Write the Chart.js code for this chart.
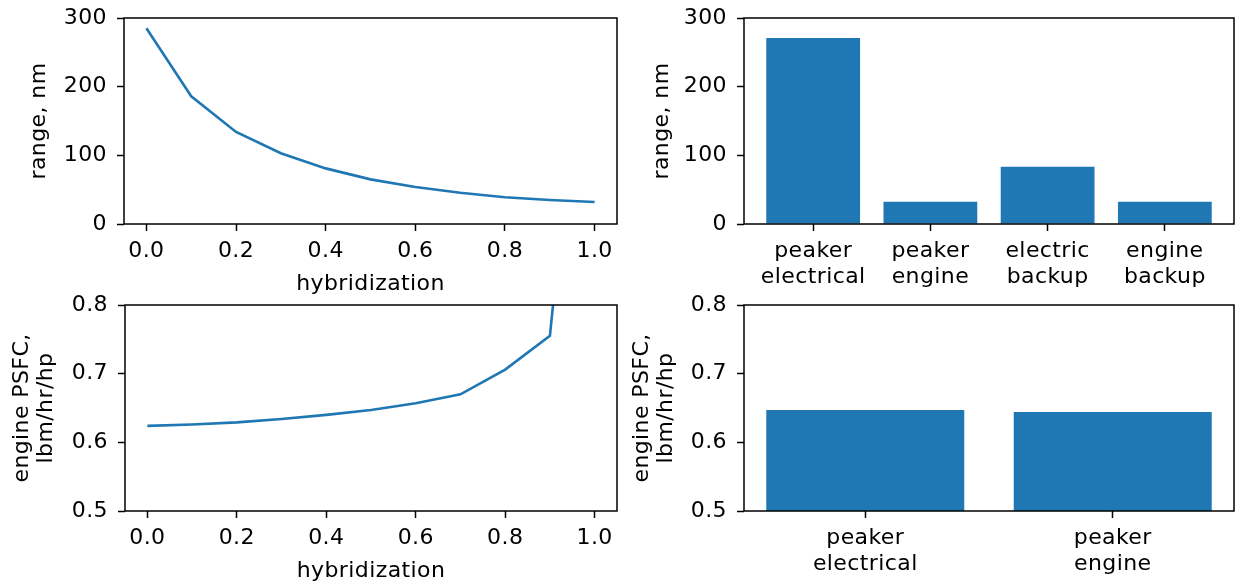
<!DOCTYPE html>
<html>
<head>
<meta charset="utf-8">
<script src="https://cdn.jsdelivr.net/npm/chart.js@4"></script>
<style>
  html, body { margin: 0; padding: 0; background: #fff; }
  #wrap { position: relative; width: 1236px; height: 584px; overflow: hidden; }
  canvas { position: absolute; }
</style>
</head>
<body>
<div id="wrap">
  <canvas id="rangeLine" width="620" height="300" style="left:0;top:0"></canvas>
  <canvas id="rangeBar" width="616" height="300" style="left:620px;top:0"></canvas>
  <canvas id="psfcLine" width="620" height="296" style="left:0;top:292px"></canvas>
  <canvas id="psfcBar" width="616" height="296" style="left:620px;top:292px"></canvas>
</div>
<script>
// ===== DATA =====
const hybridization = [0.0, 0.1, 0.2, 0.3, 0.4, 0.5, 0.6, 0.7, 0.8, 0.9, 1.0];
const rangeVsHyb = [285, 186, 134, 103, 81, 65, 54, 45.5, 39, 35, 32];
const psfcVsHyb = [0.624, 0.626, 0.629, 0.634, 0.640, 0.647, 0.657, 0.670, 0.706, 0.755, 1.4];

const rangeCases = [['peaker', 'electrical'], ['peaker', 'engine'], ['electric', 'backup'], ['engine', 'backup']];
const rangeByCase = [271, 32.5, 83.5, 32.5];
const psfcCases = [['peaker', 'electrical'], ['peaker', 'engine']];
const psfcByCase = [0.647, 0.644];

const hybTicks = [0, 0.2, 0.4, 0.6, 0.8, 1.0];
const rangeTicks = [0, 100, 200, 300];
const psfcTicks = [0.5, 0.6, 0.7, 0.8];

const BLUE = '#1f77b4';
const TICK_FONT = { family: 'DejaVu Sans', size: 22, lineHeight: 1.18 };
const TITLE_FONT = { family: 'DejaVu Sans', size: 22, lineHeight: 1.07 };

Chart.defaults.color = '#000';
Chart.defaults.font.family = 'DejaVu Sans';
Chart.defaults.animation = false;

// a touch of tracking so text widths match the picture
const tracking = {
    id: 'tracking',
    beforeLayout(chart) { chart.ctx.letterSpacing = '0.4px'; },
    beforeDraw(chart) { chart.ctx.letterSpacing = '0.4px'; }
};

// draw the full box round each plot, like matplotlib spines
const frame = {
    id: 'frame',
    afterDatasetsDraw(chart) {
        const a = chart.chartArea;
        const ctx = chart.ctx;
        ctx.save();
        ctx.strokeStyle = '#000';
        ctx.lineWidth = 1.5;
        ctx.strokeRect(a.left, a.top, a.right - a.left, a.bottom - a.top);
        ctx.restore();
    }
};

function fixTicks(values) {
    return scale => { scale.ticks = values.map(v => ({ value: v })); };
}

function tickGrid() {
    return { display: true, offset: false, drawOnChartArea: false, drawTicks: true, tickLength: 7, tickWidth: 1.5, color: '#000' };
}

function xAxis(min, max, ticks, fmt, height, title, titlePad) {
    return {
        type: 'linear', min: min, max: max, offset: false,
        afterBuildTicks: fixTicks(ticks),
        afterFit: s => { s.height = height; s.paddingLeft = 0; s.paddingRight = 0; },
        grid: tickGrid(),
        border: { display: false },
        ticks: { font: TICK_FONT, padding: 7, maxRotation: 0, autoSkip: false, callback: fmt },
        title: title ? { display: true, text: title, font: TITLE_FONT, padding: { top: 0, bottom: titlePad } } : { display: false }
    };
}

function yAxis(min, max, ticks, fmt, width, title, titlePad) {
    return {
        min: min, max: max,
        afterBuildTicks: fixTicks(ticks),
        afterFit: s => { s.width = width; s.paddingTop = 0; s.paddingBottom = 0; },
        grid: tickGrid(),
        border: { display: false },
        ticks: { font: TICK_FONT, padding: 10, callback: fmt },
        title: { display: true, text: title, font: TITLE_FONT, padding: { top: titlePad, bottom: 0 } }
    };
}

const fmt1 = v => v.toFixed(1);
const fmt0 = v => v.toFixed(0);

function baseOptions(padding, scales) {
    return {
        responsive: false,
        maintainAspectRatio: false,
        layout: { padding: padding },
        plugins: { legend: { display: false }, tooltip: { enabled: false } },
        scales: scales
    };
}

// range vs hybridization
new Chart(document.getElementById('rangeLine'), {
    type: 'line',
    data: {
        datasets: [{
            data: hybridization.map((h, i) => ({ x: h, y: rangeVsHyb[i] })),
            borderColor: BLUE, borderWidth: 2.6, pointRadius: 0, tension: 0, fill: false
        }]
    },
    options: baseOptions({ top: 18, right: 3, left: 0, bottom: 0 }, {
        x: xAxis(-0.05, 1.05, hybTicks, fmt1, 76, 'hybridization', 4),
        y: yAxis(0, 300, rangeTicks, fmt0, 124, 'range, nm', 28)
    }),
    plugins: [tracking, frame]
});

// range by case
new Chart(document.getElementById('rangeBar'), {
    type: 'bar',
    data: {
        datasets: [{
            data: rangeByCase.map((v, i) => ({ x: i, y: v })),
            backgroundColor: BLUE, categoryPercentage: 1, barPercentage: 0.8
        }]
    },
    options: baseOptions({ top: 18, right: 2, left: 0, bottom: 0 }, {
        x: xAxis(-0.59, 3.59, rangeCases.map((c, i) => i), v => rangeCases[v], 76, null, 0),
        y: yAxis(0, 300, rangeTicks, fmt0, 124, 'range, nm', 31)
    }),
    plugins: [tracking, frame]
});

// PSFC vs hybridization
new Chart(document.getElementById('psfcLine'), {
    type: 'line',
    data: {
        datasets: [{
            data: hybridization.map((h, i) => ({ x: h, y: psfcVsHyb[i] })),
            borderColor: BLUE, borderWidth: 2.6, pointRadius: 0, tension: 0, fill: false
        }]
    },
    options: baseOptions({ top: 13, right: 3, left: 0, bottom: 0 }, {
        x: xAxis(-0.05, 1.05, hybTicks, fmt1, 77, 'hybridization', 5),
        y: yAxis(0.5, 0.8, psfcTicks, fmt1, 125, ['engine PSFC,', 'lbm/hr/hp'], 10.5)
    }),
    plugins: [tracking, frame]
});

// PSFC by case
new Chart(document.getElementById('psfcBar'), {
    type: 'bar',
    data: {
        datasets: [{
            data: psfcByCase.map((v, i) => ({ x: i, y: v })),
            backgroundColor: BLUE, categoryPercentage: 1, barPercentage: 0.8
        }]
    },
    options: baseOptions({ top: 13, right: 2, left: 0, bottom: 0 }, {
        x: xAxis(-0.49, 1.49, psfcCases.map((c, i) => i), v => psfcCases[v], 77, null, 0),
        y: yAxis(0.5, 0.8, psfcTicks, fmt1, 124, ['engine PSFC,', 'lbm/hr/hp'], 11)
    }),
    plugins: [tracking, frame]
});
</script>
</body>
</html>
